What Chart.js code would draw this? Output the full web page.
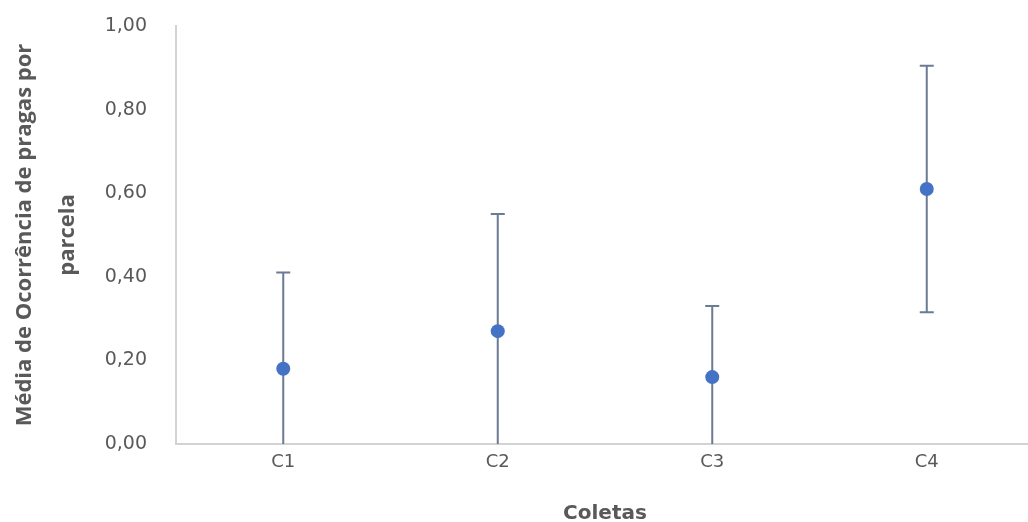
<!DOCTYPE html>
<html>
<head>
<meta charset="utf-8">
<script src="https://cdn.jsdelivr.net/npm/chart.js@4.4.1/dist/chart.umd.min.js"></script>
<style>
  html, body { margin: 0; padding: 0; background: #fff; overflow: hidden; }
  #wrap { width: 1041px; height: 522px; position: relative; }
</style>
</head>
<body>
<div id="wrap"><canvas id="chart"></canvas></div>
<script>
// DATA
const categories = ['C1', 'C2', 'C3', 'C4'];
const means = [0.18, 0.27, 0.16, 0.61];
const lower = [0, 0, 0, 0.315];
const upper = [0.41, 0.55, 0.33, 0.905];
const yTicks = [0, 0.2, 0.4, 0.6, 0.8, 1.0];

const textGrey = '#595959';
const axisGrey = '#d3d3d3';
const barColor = '#6b7b93';
const dotColor = '#4472c4';

// error bars drawn under the dots
const errorBars = {
  id: 'errorBars',
  beforeDatasetsDraw(chart) {
    const ctx = chart.ctx;
    const x = chart.scales.x, y = chart.scales.y;
    ctx.save();
    ctx.strokeStyle = barColor;
    ctx.lineWidth = 2;
    categories.forEach((c, i) => {
      const px = x.getPixelForValue(i);
      const top = y.getPixelForValue(upper[i]);
      const bot = y.getPixelForValue(lower[i]);
      ctx.beginPath();
      ctx.moveTo(px, top); ctx.lineTo(px, bot);
      ctx.moveTo(px - 7, top); ctx.lineTo(px + 7, top);
      // cap at the axis is hidden in the original
      if (lower[i] > y.min) { ctx.moveTo(px - 7, bot); ctx.lineTo(px + 7, bot); }
      ctx.stroke();
    });
    ctx.restore();
  }
};

new Chart(document.getElementById('chart'), {
  type: 'line',
  data: {
    labels: categories,
    datasets: [{
      data: means,
      showLine: false,
      pointRadius: 7,
      pointHoverRadius: 7,
      pointBackgroundColor: dotColor,
      pointBorderColor: dotColor,
      pointBorderWidth: 0
    }]
  },
  options: {
    responsive: true, maintainAspectRatio: false, animation: false,
    layout: { padding: { top: 26, left: 0, right: 0, bottom: 0 } },
    plugins: { legend: { display: false }, tooltip: { enabled: false } },
    scales: {
      x: {
        offset: true,
        grid: { display: false, drawTicks: false },
        border: { color: axisGrey, width: 2 },
        ticks: { color: textGrey, font: { family: 'DejaVu Sans', size: 18 }, padding: 8 },
        title: { display: true, text: 'Coletas', color: textGrey,
                 font: { family: 'DejaVu Sans', size: 20, weight: 'bold', lineHeight: 0.4 },
                 padding: { top: 24, bottom: 4 } },
        afterFit: s => { s.height = 78; }
      },
      y: {
        min: 0, max: 1,
        grid: { display: false, drawTicks: false },
        border: { color: axisGrey, width: 2 },
        afterBuildTicks: s => { s.ticks = yTicks.map(v => ({ value: v })); },
        ticks: { color: textGrey, font: { family: 'DejaVu Sans', size: 19 }, padding: 29,
                 callback: v => v.toFixed(2).replace('.', ',') },
        title: { display: true, text: ['Média de Ocorrência de pragas por', 'parcela'], color: textGrey,
                 font: { family: 'Open Sans', size: 22, weight: 'bold', lineHeight: 1.95 },
                 padding: { top: 3, bottom: 0 } },
        afterFit: s => { s.width = 176; s.paddingTop = 0; }
      }
    }
  },
  plugins: [errorBars]
});
</script>
</body>
</html>
